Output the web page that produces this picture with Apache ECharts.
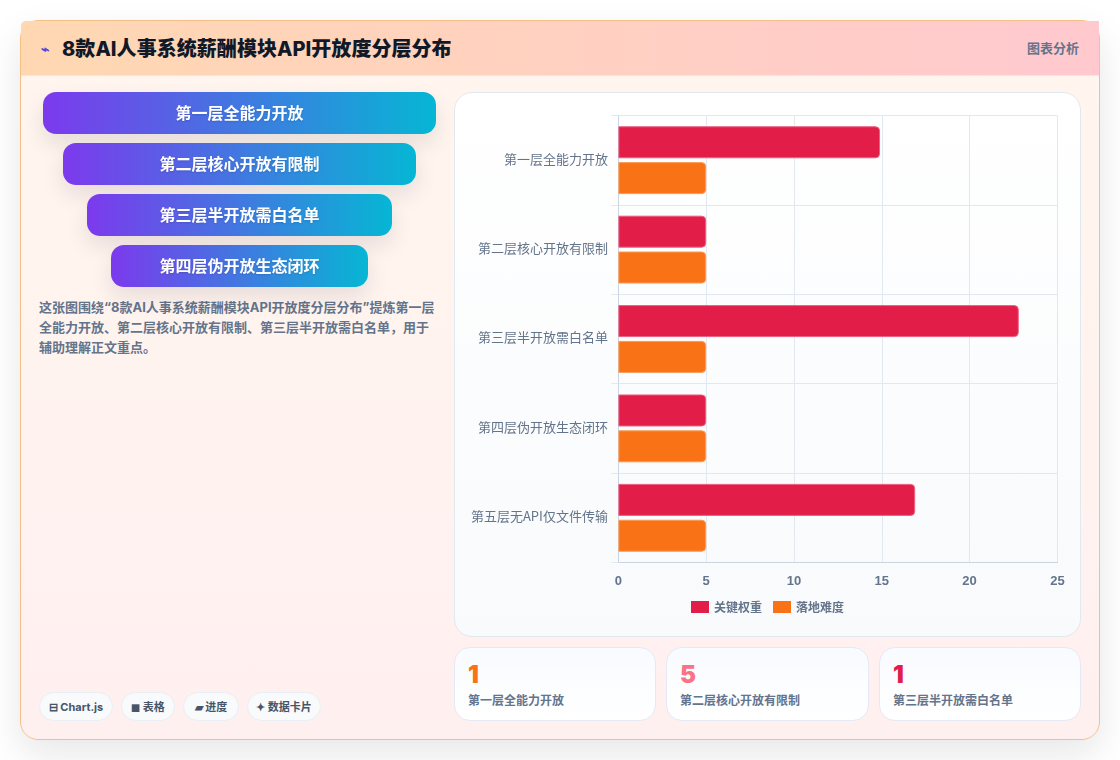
<!DOCTYPE html>
<html lang="zh-CN">
<head>
<meta charset="utf-8">
<title>8款AI人事系统薪酬模块API开放度分层分布</title>
<script src="https://cdn.jsdelivr.net/npm/echarts@6/dist/echarts.min.js"></script>
<style>
  * { box-sizing: border-box; margin: 0; padding: 0; }
  html, body { width: 1120px; height: 760px; background: #fff; overflow: hidden;
    font-family: Inter, "Noto Sans CJK SC", sans-serif; }
  .card { position: absolute; left: 20px; top: 20px; width: 1080px; height: 720px;
    border: 1px solid #f3c088; border-radius: 18px;
    background: linear-gradient(180deg, #fff6ee 0%, #fff0f0 100%);
    box-shadow: 0 14px 36px rgba(15, 23, 42, .10); }
  .head { position: absolute; left: 0; top: 0; width: 1078px; height: 55px;
    background: linear-gradient(90deg, #ffd8b2 0%, #ffc9cf 100%);
    border-top-left-radius: 5px; border-bottom: 1px solid #f4e6de; }
  .bolt { position: absolute; left: 20px; top: 15px; font-size: 14px; line-height: 26px; color: #4f46e5; font-weight: 700; }
  .title { position: absolute; left: 41px; top: 13px; font-size: 20px; line-height: 30px; font-weight: 800; color: #111827; white-space: nowrap; letter-spacing: .05px; }
  .tag { position: absolute; right: 20px; top: 17px; font-size: 13px; line-height: 20px; font-weight: 700; color: #64748b; }
  .tier { position: absolute; height: 42px; border-radius: 13px; text-align: center; color: #fff;
    font-size: 16px; line-height: 42px; font-weight: 700;
    text-shadow: 0 1px 2px rgba(15, 23, 42, .15);
    background: linear-gradient(90deg, #7c3aed, #06b6d4);
    box-shadow: 0 10px 22px rgba(15, 23, 42, .10); }
  .desc { position: absolute; left: 18px; top: 275.5px; width: 396px; font-size: 13px; line-height: 20.4px; font-weight: 700; color: #64748b; }
  .pill { position: absolute; top: 671px; height: 29px; border: 1px solid #e9eef5; border-radius: 15px;
    background: #f8fafc; font-size: 11px; line-height: 29px; font-weight: 700; color: #475569; text-align: center; white-space: nowrap; }
  .panel { position: absolute; left: 433px; top: 71px; width: 627px; height: 545px;
    border: 1px solid #e2e8f0; border-radius: 18px;
    background: linear-gradient(180deg, #ffffff 0%, #f8fafc 100%); }
  #chart { position: absolute; left: -1px; top: -1px; width: 627px; height: 545px; }
  .stat { position: absolute; top: 626px; height: 74px; border: 1px solid #e5e9f5; border-radius: 16px;
    background: linear-gradient(180deg, #f8fbff 0%, #ffffff 100%); }
  .stat b { position: absolute; left: 13px; top: 9px; font-size: 24px; line-height: 36px; font-weight: 900; }
  .stat span { position: absolute; left: 13px; top: 44px; font-size: 12px; line-height: 18px; font-weight: 700; color: #64748b; white-space: nowrap; }
</style>
</head>
<body>
<div class="card" id="card">
  <div class="head">
    <span class="bolt">⌁</span>
    <span class="title" id="title"></span>
    <span class="tag">图表分析</span>
  </div>
  <div class="desc" id="desc"></div>
  <div class="panel"><div id="chart"></div></div>
</div>
<script>
// Tier names shown on the chart's vertical axis
const categories = ['第一层全能力开放', '第二层核心开放有限制', '第三层半开放需白名单', '第四层伪开放生态闭环', '第五层无API仅文件传输'];
// Bar series
const keyWeight = [14.9, 5, 22.8, 5, 16.9];
const difficulty = [5, 5, 5, 5, 5];
const seriesNames = ['关键权重', '落地难度'];
// Stacked tier buttons on the left: label, left edge, top, width
const tierLabels = ['第一层全能力开放', '第二层核心开放有限制', '第三层半开放需白名单', '第四层伪开放生态闭环'];
const tierBoxes = [[22, 71, 393], [42, 122, 353], [66, 173, 305], [90, 224, 257]];
// Summary cards
const statValues = ['1', '5', '1'];
const statLabels = ['第一层全能力开放', '第二层核心开放有限制', '第三层半开放需白名单'];
const statColors = ['#f97316', '#fb7185', '#e11d48'];
const statBoxes = [[433, 202], [645, 203], [858, 202]];
// Feature pills
const pillLabels = ['⊟ Chart.js', '◼ 表格', '▰ 进度', '✦ 数据卡片'];
const pillBoxes = [[18, 74], [100, 54], [162, 56], [226, 74]];

const titleText = '8款AI人事系统薪酬模块API开放度分层分布';
const descText = '这张图围绕“8款AI人事系统薪酬模块API开放度分层分布”提炼第一层全能力开放、第二层核心开放有限制、第三层半开放需白名单，用于辅助理解正文重点。';

document.getElementById('title').textContent = titleText;
document.getElementById('desc').textContent = descText;

const card = document.getElementById('card');
tierLabels.forEach((label, i) => {
  const el = document.createElement('div');
  el.className = 'tier';
  el.textContent = label;
  el.style.cssText = `left:${tierBoxes[i][0]}px;top:${tierBoxes[i][1]}px;width:${tierBoxes[i][2]}px`;
  card.appendChild(el);
});
pillLabels.forEach((label, i) => {
  const el = document.createElement('div');
  el.className = 'pill';
  el.textContent = label;
  el.style.cssText = `left:${pillBoxes[i][0]}px;width:${pillBoxes[i][1]}px`;
  card.appendChild(el);
});
statValues.forEach((value, i) => {
  const el = document.createElement('div');
  el.className = 'stat';
  el.style.cssText = `left:${statBoxes[i][0]}px;width:${statBoxes[i][1]}px`;
  const num = document.createElement('b');
  num.textContent = value;
  num.style.color = statColors[i];
  const cap = document.createElement('span');
  cap.textContent = statLabels[i];
  el.append(num, cap);
  card.appendChild(el);
});

const chart = echarts.init(document.getElementById('chart'), null, { renderer: 'canvas' });
const barStyle = (fill, edge) => ({ color: fill, borderColor: edge, borderWidth: 1, borderRadius: [0, 4, 4, 0] });
chart.setOption({
  animation: false,
  backgroundColor: 'transparent',
  textStyle: { fontFamily: '"Noto Sans CJK SC", sans-serif' },
  grid: { left: 164.4, top: 23.5, width: 439, height: 447, containLabel: false },
  legend: {
    data: seriesNames,
    left: 232, top: 504,
    icon: 'rect',
    itemWidth: 18, itemHeight: 12, itemGap: 11,
    itemStyle: { borderWidth: 0 },
    textStyle: { fontSize: 12, fontWeight: 700, color: '#64748b' }
  },
  xAxis: {
    type: 'value', min: 0, max: 25, interval: 5,
    axisLine: { show: true, lineStyle: { color: '#cbd5e1' } },
    axisTick: { show: false },
    splitLine: { show: true, lineStyle: { color: '#e2e8f0' } },
    axisLabel: { margin: 12, fontSize: 13, fontWeight: 700, color: '#64748b', fontFamily: '"Liberation Sans", sans-serif' }
  },
  yAxis: {
    type: 'category', inverse: true, data: categories,
    axisLine: { show: true, lineStyle: { color: '#cbd5e1' } },
    axisTick: { show: true, length: 7, lineStyle: { color: '#e2e8f0' } },
    splitLine: { show: true, lineStyle: { color: '#e2e8f0' } },
    axisLabel: { margin: 10.5, fontSize: 13, color: '#64748b', lineHeight: 3, verticalAlign: 'bottom' }
  },
  series: [
    { name: seriesNames[0], type: 'bar', data: keyWeight, barWidth: 32, barGap: '12%',
      itemStyle: barStyle('#e11d48', '#ec5f80') },
    { name: seriesNames[1], type: 'bar', data: difficulty, barWidth: 32, barGap: '12%',
      itemStyle: barStyle('#f97316', '#fb9a56') }
  ]
});
</script>
</body>
</html>
